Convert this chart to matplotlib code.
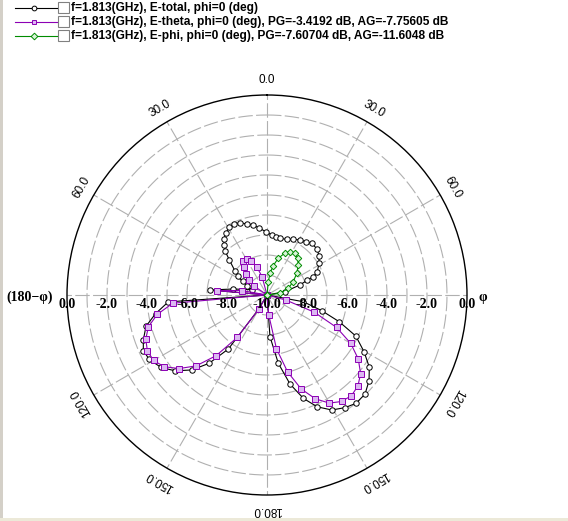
import numpy as np
import matplotlib
matplotlib.use('Agg')
import matplotlib.pyplot as plt
from matplotlib.patches import Rectangle

# ---------------- data (theta in deg, gain in dB) ----------------
theta_total = [-180, -155, -149.5, -144.4, -139.7, -134.9, -129.5, -124.3, -118.7, -114.2,
               -110, -104.5, -99.5, -94, -90, -85, -80, -71, -66, -61, -57, -53, -47,
               -43.5, -40.5, -37.4, -33.5, -29, -25, -20.5, -16, -11, -6.6, -1, 4.5, 9,
               13, 19.5, 25.3, 31, 36.2, 40.8, 47.7, 53.1, 58.6, 65.1, 68.4, 70, 73, 79.6,
               90, 100.5, 106, 110.3, 114.8, 120.3, 125.2, 130, 135.3, 140.6, 145.3, 150.6,
               155.8, 160.6, 165.5, 170.6, 175.9, 180]
db_total = [-10, -10, -9.17, -6.68, -5.52, -4.69, -4.04, -3.58, -3.29, -3.22,
            -3.42, -3.75, -4.35, -5.05, -10, -7.14, -8.27, -9.19, -8.92, -8.6, -8.29, -7.99, -7.42,
            -6.95, -6.69, -6.46, -6.28, -6.13, -6.07, -6.15, -6.3, -6.43, -6.64, -6.83, -6.99, -7.06,
            -7.09, -7.05, -6.92, -6.79, -6.7, -6.58, -6.6, -6.75, -6.95, -7.23, -7.51, -7.88, -8.28, -9.08,
            -10, -8.15, -7.15, -6.15, -5.11, -4.38, -3.74, -3.34, -3.03, -2.99, -3.15, -3.4,
            -3.87, -4.52, -5.4, -6.54, -7.91, -10]

theta_theta = [-180, -155, -150, -145, -140, -135, -130, -125, -120, -115, -110, -105, -100,
               -95, -90, -85, -80, -75, -60, -55, -50, -45, -40, -35, -30, -25, -20, -15, -10,
               100, 105, 110, 115, 120, 125, 130, 135, 140, 145, 150, 155, 160, 165, 170, 175, 180]
db_theta = [-10, -10, -9.22, -7.41, -6.04, -4.99, -4.28, -3.74, -3.45, -3.4, -3.55, -3.86, -4.43,
            -5.27, -10, -7.48, -8.72, -10, -10, -9.2, -8.85, -8.5, -8.18, -7.95, -7.95, -8.15, -8.5, -9.05, -10,
            -10, -9.02, -7.48, -6.16, -5.17, -4.43, -3.89, -3.57, -3.43, -3.5, -3.76, -4.27, -5.0, -6.02, -7.27, -9.0, -10]

theta_phi = [-180, 0, 5.6, 8, 12, 17, 23, 28, 34, 40, 46, 54, 63, 72.5, 82.5, 90, 180]
db_phi = [-10, -10, -9.33, -8.9, -8.5, -8.08, -7.73, -7.55, -7.49, -7.61, -7.83, -8.16, -8.53,
          -8.88, -9.34, -10, -10]

legend_labels = ["f=1.813(GHz), E-total, phi=0 (deg)",
                 "f=1.813(GHz), E-theta, phi=0 (deg), PG=-3.4192 dB, AG=-7.75605 dB",
                 "f=1.813(GHz), E-phi, phi=0 (deg), PG=-7.60704 dB, AG=-11.6048 dB"]
r_ticks = [0, -2, -4, -6, -8]
theta_ticks = [0, 30, 60, 120, 150, 180, -30, -60, -120, -150]
r_min, r_max = -10, 0

# ---------------- figure ----------------
W, H = 568, 521
fig = plt.figure(figsize=(W / 100, H / 100), dpi=100)
fig.patch.set_facecolor('white')

ov = fig.add_axes([0, 0, 1, 1])
ov.set_xlim(0, W)
ov.set_ylim(H, 0)
ov.axis('off')

cx, cy, R = 267, 295, 200
ax = fig.add_axes([(cx - R) / W, (H - cy - R) / H, 2 * R / W, 2 * R / H], projection='polar')
ax.set_theta_zero_location('N')
ax.set_theta_direction(-1)
ax.set_ylim(r_min, r_max)
ax.set_xticks([])
ax.set_yticks([])
ax.grid(False)
ax.patch.set_alpha(0)
ax.spines['polar'].set_color('black')
ax.spines['polar'].set_linewidth(1.0)

grid_c = '#b0b0b0'
tt = np.linspace(0, 2 * np.pi, 721)
for r in range(r_min + 1, r_max):
    ax.plot(tt, np.full_like(tt, r), color=grid_c, lw=0.8, ls=(0, (13, 3)), zorder=1)
for d in range(0, 360, 30):
    ax.plot([np.radians(d)] * 2, [r_min, r_max], color=grid_c, lw=0.8, ls=(0, (13, 3)), zorder=1)

def draw(th, db, color, marker, mfc, ms):
    t = np.radians(np.array(th, dtype=float))
    v = np.maximum(np.array(db, dtype=float), r_min)
    ax.plot(t, v, color=color, lw=0.8, marker=marker, ms=ms, mfc=mfc, mec=color, mew=0.7,
            zorder=3, clip_on=False)

purple = '#8c00b4'
green = '#008c00'
draw(theta_total, db_total, 'black', 'o', 'white', 3.9)
draw(theta_theta, db_theta, purple, 's', '#dcb8f2', 3.7)
draw(theta_phi, db_phi, green, 'D', '#d8f4d8', 3.3)

# radial labels along horizontal diameter
lbl_font = dict(family='Liberation Serif', weight='bold', fontsize=10)
for side in (-90, 90):
    for v in r_ticks:
        ax.annotate(f"{v:.1f}", xy=(np.radians(side), v), xytext=(0, -10),
                    textcoords='offset pixels', ha='center', va='center', **lbl_font,
                    annotation_clip=False, zorder=5)
ax.annotate("-10.0", xy=(0, r_min), xytext=(0, -10), textcoords='offset pixels',
            ha='center', va='center', **lbl_font, annotation_clip=False, zorder=5)

# angle labels
for d in theta_ticks:
    ax.text(np.radians(d), 0.73, f"{abs(d):.1f}", rotation=-d, rotation_mode='anchor',
            ha='center', va='center', fontsize=8.5, family='Liberation Sans', clip_on=False)

ov.text(30, 297, "(180\u2212\u03c6)", ha='center', va='center', **lbl_font)
ov.text(483, 297, "\u03c6", ha='center', va='center', **lbl_font)

# legend
rows = [8, 22, 36]
styles = [('black', 'o', 'white'), (purple, 's', '#dcb8f2'), (green, 'D', '#d8f4d8')]
for y, (c, m, fc), lab in zip(rows, styles, legend_labels):
    ov.plot([15, 57], [y, y], color=c, lw=0.8)
    ov.plot([34], [y], marker=m, ms=3.4, mfc=fc, mec=c, mew=0.7, color=c)
    ov.add_patch(Rectangle((58, y - 6), 11, 11, facecolor='white', edgecolor='#808080', lw=0.8))
    ov.text(71, y, lab, ha='left', va='center', fontsize=8.6, weight='bold', family='Liberation Sans')

# window edges
ov.add_patch(Rectangle((0, 0), 2.5, H, facecolor='#d4d0c8', edgecolor='none'))
ov.add_patch(Rectangle((0, 518), W, 3, facecolor='#ece9d8', edgecolor='none'))

fig.savefig('out.png', dpi=100, facecolor='white')
